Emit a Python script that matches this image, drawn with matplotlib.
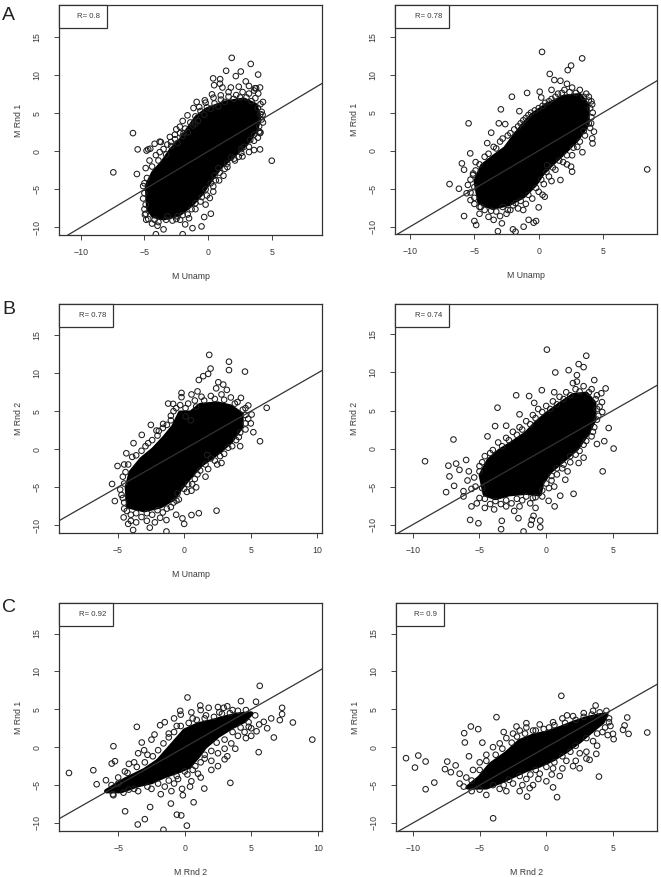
import matplotlib
matplotlib.use("Agg")
import matplotlib.pyplot as plt
from matplotlib.ticker import MultipleLocator
from matplotlib.patches import Rectangle

plt.rcParams['font.family'] = ['Liberation Sans', 'DejaVu Sans']

# ---------------- data ----------------
panel_letters = ["A", "B", "C"]
x_labels = ["M Unamp", "M Unamp", "M Unamp", "", "M Rnd 2", "M Rnd 2"]
y_labels = ["M Rnd 1", "M Rnd 1", "M Rnd 2", "M Rnd 2", "M Rnd 1", "M Rnd 1"]
r_values = ["0.8", "0.78", "0.78", "0.74", "0.92", "0.9"]

# dense (solid black) core of each cloud, outline vertices (x, y)
al_core = [(-4.7,-7.5),(-4.8,-4.5),(-4.3,-2.8),(-3.6,-1.5),(-2.9,0.2),(-2.1,1.6),(-1.5,3.1),
           (-0.9,4.5),(-0.1,5.5),(1.3,6.4),(2.8,6.8),(3.7,6.1),(4.0,4.5),(3.8,3.0),(3.0,1.0),
           (2.0,-0.5),(1.0,-2.0),(0.3,-3.5),(-0.5,-5.5),(-1.3,-7.0),(-2.3,-8.3),(-3.5,-8.8),(-4.3,-8.5)]
ar_core = [(-4.6,-6.8),(-4.9,-4.0),(-4.4,-2.0),(-3.5,-0.8),(-2.6,0.3),(-1.9,1.9),(-1.2,3.4),
           (-0.5,4.7),(0.6,6.0),(2.0,7.1),(3.2,7.3),(3.8,6.0),(3.8,3.5),(3.0,1.5),(2.0,-0.2),
           (1.0,-1.8),(0.3,-3.0),(-0.3,-4.5),(-1.2,-6.0),(-2.3,-7.0),(-3.6,-7.5)]
bl_core = [(-4.2,-7.5),(-4.3,-5.0),(-4.0,-3.0),(-3.2,-1.3),(-2.3,0.0),(-1.5,1.5),(-0.8,3.0),
           (-0.3,4.8),(0.5,4.8),(1.2,5.8),(2.5,6.0),(3.5,5.6),(4.3,4.6),(4.3,3.0),(3.5,1.0),
           (2.5,-0.5),(1.3,-2.0),(0.5,-3.5),(-0.2,-5.0),(-0.8,-6.5),(-1.8,-7.5),(-3.0,-8.0)]
br_core = [(-4.6,-6.0),(-4.9,-3.5),(-4.3,-1.5),(-3.5,-0.3),(-2.5,0.8),(-1.5,2.0),(-0.8,3.3),
           (0.0,4.5),(1.0,5.8),(2.0,7.0),(3.0,7.2),(3.6,6.0),(3.6,3.8),(3.1,2.0),(2.3,0.0),
           (1.3,-1.5),(0.3,-3.0),(-0.3,-4.5),(-0.5,-6.0),(-1.5,-5.8),(-2.8,-6.0),(-3.8,-6.5)]
cl_core = [(-5.9,-5.8),(-4.5,-4.3),(-3.0,-3.0),(-2.0,-1.8),(-1.0,0.2),(0.0,2.2),(1.0,3.0),
           (2.0,3.4),(3.0,3.9),(4.0,4.3),(5.0,4.45),(4.5,3.5),(3.5,2.6),(2.5,1.5),(1.5,0.0),
           (1.0,-1.2),(0.3,-2.6),(-0.5,-3.2),(-1.5,-3.8),(-2.5,-4.6),(-3.5,-5.0),(-4.8,-5.8)]
cr_core = [(-5.9,-5.3),(-5.0,-4.0),(-4.2,-2.3),(-3.0,-0.8),(-2.0,0.8),(-1.0,1.5),(0.0,1.9),
           (1.0,2.5),(2.0,3.2),(3.0,3.8),(4.0,4.2),(4.5,4.3),(4.2,3.3),(3.5,2.3),(2.5,0.8),
           (1.5,-0.5),(0.5,-1.6),(-0.5,-2.4),(-1.5,-3.0),(-2.5,-3.8),(-3.5,-4.6),(-4.5,-5.3)]

# individual visible points (x, y)
al_points = [(1.85,12.3),(3.34,11.5),(1.41,10.6),(2.56,10.5),(3.92,10.1),(0.94,9.5),(2.17,9.9),
             (2.95,9.2),(0.47,8.7),(1.12,8.4),(1.78,8.4),(3.76,8.3),(-5.9,2.4),(-5.53,0.26),
             (-4.83,0.1),(-4.54,0.35),(-7.44,-2.76),(-5.59,-2.98),(4.99,-1.23),(4.07,0.26),
             (3.6,0.17),(4.07,2.4),(4.07,8.4),(-5.1,-4.56),(-3.19,-8.55),(-2.4,-8.55),(-1.8,-9.6),
             (-1.23,-10.1),(-0.52,-9.87),(-0.31,-8.64),(0.21,-8.2),(0.13,-6.14),(-3.97,-9.78),
             (-3.5,-10.26),(-2.0,-10.9),(-4.1,-10.9),(-4.96,-8.33),(-4.86,-9.0),(0.86,-3.82),
             (1.51,-2.06),(2.04,-0.96),(2.69,-0.66),(3.21,-0.09),(-1.02,3.64),(-1.93,2.41),
             (-2.61,2.19),(-2.92,1.23),(-3.71,1.23),(-1.15,5.7),(-0.7,5.83),(-1.62,4.74),
             (-0.26,6.71),(0.42,7.06),(0.99,7.37),(0.39,9.6),(0.92,8.9),(3.67,8.3),(-2.22,3.24),
             (-3.0,1.9),(-3.8,1.27),(-4.7,0.26),(4.0,2.6),(4.27,4.8),(4.3,6.5),(3.93,7.6),
             (-4.9,-2.2),(-4.6,-1.2),(-4.1,-0.5),(-3.5,0.3),(-3.2,0.9),(-2.6,1.6),(-2.2,2.4),
             (-1.8,3.0),(-1.4,3.8),(-1.0,4.6),(-0.6,5.3),(-0.1,5.8),(0.5,6.3),(1.0,6.8),(1.6,7.2),
             (2.2,7.4),(2.7,7.8),(3.2,7.6),(3.7,7.0),(4.1,6.2),(4.2,5.2),(4.3,3.8),(4.1,2.5),
             (3.6,1.4),(3.2,0.6),(2.6,-0.2),(2.1,-1.2),(1.5,-1.6),(0.9,-2.8),(0.6,-3.8),(0.4,-4.6),
             (-0.1,-5.8),(-0.6,-6.6),(-1.0,-7.6),(-1.6,-8.3),(-2.8,-9.1),(-3.9,-9.3),(-4.7,-8.9),
             (-5.0,-7.6),(-5.1,-6.2),(-4.4,-9.5),(-2.2,-9.0),
             (-4.8,-3.5),(-4.4,-2.0),(-3.9,-1.2),(-3.3,-0.4),(-2.9,0.7),(-2.4,1.1),(-2.0,2.0),
             (-1.6,2.5),(-1.2,3.4),(-0.8,4.0),(-0.3,4.8),(0.2,5.6),(0.8,5.9),(1.3,6.5),(2.0,6.9),
             (2.5,7.1),(3.0,7.1),(3.4,6.6),(3.9,5.7),(4.1,4.9),(4.2,4.2),(4.0,3.3),(3.6,2.2),
             (3.3,1.5),(2.8,0.6),(2.4,-0.7),(1.8,-0.8),(1.3,-2.3),(0.8,-2.2),(0.5,-3.2),(0.2,-4.2),
             (-0.2,-5.0),(-0.5,-6.0),(-1.0,-6.8),(-1.3,-7.6),(-2.0,-8.4),(-2.5,-8.9),(-3.3,-9.0),
             (-4.2,-9.0),(-4.9,-8.2),(-4.9,-7.0),(-5.0,-5.5),(-5.0,-4.2),(-1.5,-8.8),(-0.2,-7.0),
             (0.4,-5.3),(1.2,-3.2),(2.6,0.3),(3.9,1.8),(-3.8,-0.1),(-2.5,2.9),(-0.2,6.4),(1.6,7.8),
             (2.4,8.5),(3.2,8.6),(3.6,8.0),(0.3,7.5),(-0.9,6.5),(-2.0,4.0),(-4.2,1.0)]
ar_points = [(0.26,13.0),(3.38,12.15),(2.52,11.2),(2.26,10.6),(1.69,9.2),(0.86,10.1),(1.22,9.3),
             (-2.08,7.1),(-2.94,5.44),(-5.45,3.6),(-3.1,3.6),(-3.69,2.37),(-0.9,7.6),(0.08,7.76),
             (-5.32,-0.35),(-5.97,-1.67),(-6.93,-4.39),(-5.8,-8.6),(-5.0,-9.25),(-4.86,-9.78),
             (-3.9,-8.7),(-3.17,-10.6),(-3.5,-9.1),(-2.86,-9.56),(-2.0,-10.35),(-1.8,-10.66),
             (-0.78,-9.1),(-0.39,-9.47),(-0.2,-9.25),(-1.17,-10.0),(0.0,-7.46),(0.47,-6.05),
             (8.44,-2.46),(4.16,1.62),(4.19,0.96),(4.08,3.6),(3.9,7.1),(4.16,6.1),(2.52,-2.1),
             (2.6,-2.76),(1.69,-3.86),(0.65,-1.9),(-1.8,-6.9),(-2.2,-7.8),(-4.5,-7.4),(-5.3,-6.5),
             (-5.6,-5.6),(-5.1,-3.0),
             (-5.1,-3.2),(-4.9,-1.5),(-4.2,-0.8),(-3.5,0.5),(-3.0,1.2),(-2.4,2.0),(-1.9,2.8),
             (-1.4,3.6),(-1.0,4.3),(-0.6,5.0),(0.0,5.6),(0.5,6.3),(1.0,6.8),(1.5,7.5),(2.0,8.0),
             (2.6,8.3),(3.2,8.0),(3.7,7.5),(4.1,6.5),(4.2,5.0),(4.0,3.0),(3.6,2.0),(3.0,0.5),
             (2.6,-0.6),(1.9,-1.5),(1.3,-2.5),(0.8,-3.4),(0.4,-4.4),(0.0,-5.4),(-0.5,-6.3),
             (-1.0,-7.0),(-1.6,-7.6),(-2.4,-7.8),(-3.3,-8.0),(-4.2,-7.8),(-5.0,-7.0),(-5.3,-5.5),
             (-5.5,-4.5),(-4.6,-8.3),(-3.0,-8.6),
             (-5.0,-4.8),(-4.9,-2.6),(-4.6,-1.8),(-3.9,-0.4),(-3.3,0.3),(-2.8,1.6),(-2.2,2.3),
             (-1.6,3.2),(-1.2,4.0),(-0.8,4.7),(-0.3,5.3),(0.3,5.9),(0.8,6.5),(1.3,7.1),(1.8,7.6),
             (2.4,7.7),(2.9,7.6),(3.5,7.1),(3.9,6.6),(4.0,5.6),(4.1,4.4),(3.9,3.6),(3.5,2.6),
             (3.2,1.2),(2.7,0.4),(2.2,-0.6),(1.6,-1.3),(1.1,-2.2),(0.6,-2.8),(0.2,-3.8),(-0.2,-4.9),
             (-0.8,-5.8),(-1.4,-6.6),(-2.0,-7.2),(-2.8,-7.4),(-3.7,-7.9),(-4.6,-7.4),(-5.0,-6.2),
             (-5.3,-3.8),(-2.5,-8.3),(-1.2,-7.8),(0.3,-5.8),(1.0,-4.0),(2.2,-1.8),(3.4,-0.2),
             (4.3,2.5),(2.2,8.8),(1.0,8.0),(0.2,7.0),(-1.5,5.2),(-2.6,3.5),(-4.0,1.0),(-5.8,-2.5),
             (-6.2,-5.0)]
bl_points = [(1.88,12.4),(3.36,11.5),(1.98,10.6),(3.36,10.4),(4.56,10.2),(1.8,9.9),(1.43,9.6),
             (2.56,8.8),(2.93,8.5),(1.1,9.1),(6.19,5.44),(5.69,1.05),(5.19,2.24),(5.06,4.56),
             (4.81,5.75),(4.26,6.75),(-3.18,1.89),(-4.34,-0.53),(-5.41,-4.56),(1.73,-0.75),
             (2.48,-2.0),(2.43,-8.07),(1.1,-8.4),(0.55,-8.64),(-0.13,-9.08),(0.0,-9.8),
             (-1.33,-9.3),(-1.33,-10.8),(-2.58,-10.3),(-3.83,-10.6),(-4.2,-9.8),(-4.54,-8.95),
             (0.55,-5.44),(-0.58,-6.75),(-2.08,2.46),(-1.58,3.33),(-0.83,5.96),(-0.2,6.84),
             (0.55,7.2),
             (-4.6,-3.6),(-4.5,-2.0),(-3.9,-1.0),(-3.2,-0.2),(-2.7,0.8),(-2.0,1.8),(-1.6,2.8),
             (-1.0,3.8),(-0.8,5.0),(-0.3,5.8),(0.3,6.0),(0.8,6.4),(1.3,6.9),(2.0,7.0),(2.8,7.2),
             (3.5,6.8),(4.0,6.2),(4.6,5.4),(4.8,4.0),(4.6,2.6),(4.1,1.6),(3.6,0.4),(3.0,-0.6),
             (2.3,-1.5),(1.8,-2.6),(1.0,-3.3),(0.6,-4.6),(0.2,-5.6),(-0.4,-6.6),(-1.0,-7.6),
             (-1.6,-8.3),(-2.4,-8.6),(-3.2,-8.9),(-4.0,-8.6),(-4.5,-7.8),(-4.6,-6.4),(-4.8,-5.3),
             (-2.8,-9.4),(-3.6,-9.6),(-1.8,-9.0),(0.1,4.3),(0.5,3.8),
             (-4.5,-4.5),(-4.4,-3.0),(-4.2,-2.0),(-3.6,-0.8),(-2.9,0.4),(-2.4,1.2),(-1.9,2.4),
             (-1.3,3.2),(-1.0,4.4),(-0.6,5.4),(0.1,5.4),(0.9,5.6),(1.5,6.4),(2.3,6.6),(3.0,6.5),
             (3.8,6.0),(4.4,5.2),(4.6,4.5),(4.6,3.4),(4.2,2.2),(3.9,1.2),(3.3,0.2),(2.7,-0.9),
             (2.0,-1.2),(1.6,-2.0),(1.2,-2.8),(0.8,-3.9),(0.3,-4.6),(0.0,-5.2),(-0.5,-5.8),
             (-0.8,-7.0),(-1.3,-7.8),(-2.0,-8.0),(-2.8,-8.4),(-3.6,-8.4),(-4.3,-8.1),(-4.5,-7.0),
             (-4.7,-6.0),(-2.2,-9.6),(-0.6,-8.6),(0.9,-5.0),(1.6,-3.6),(2.8,-1.8),(4.2,0.4),
             (5.0,3.4),(3.2,7.8),(2.4,8.0),(1.0,7.6),(-0.2,7.4),(-1.2,6.0),(-2.5,3.2),(-3.8,0.8),
             (-5.0,-2.2),(-5.2,-6.8),(-4.0,-9.4)]
br_points = [(0.05,13.0),(3.0,12.2),(2.43,11.1),(2.8,10.7),(0.68,10.0),(1.68,10.3),(2.3,9.65),
             (2.3,8.8),(4.45,7.9),(4.13,7.27),(4.18,6.1),(4.68,2.7),(4.35,0.97),(5.05,0.0),
             (4.23,-3.0),(-2.25,7.0),(-0.33,7.67),(-3.65,5.37),(-1.28,6.9),(-3.83,2.95),
             (-6.95,1.19),(-9.08,-1.67),(-7.33,-2.25),(-6.75,-1.98),(-7.25,-3.66),(-7.5,-5.73),
             (-6.9,-4.9),(-5.7,-9.38),(-5.08,-9.82),(-3.33,-9.5),(-3.38,-10.6),(-2.08,-9.16),
             (-1.08,-9.38),(-1.15,-10.0),(-0.45,-10.35),(-0.45,-9.47),(-1.7,-10.9),(-0.95,-8.85),
             (0.18,-6.87),(0.63,-7.6),(1.05,-6.2),(2.05,-5.95),(1.43,-4.1),(2.43,-1.9),
             (-5.2,-7.2),(-6.2,-6.3),
             (-5.0,-2.3),(-4.6,-1.0),(-4.0,-0.2),(-3.6,0.8),(-3.0,1.4),(-2.5,2.2),(-2.0,2.8),
             (-1.5,3.6),(-1.0,4.4),(-0.6,5.2),(0.0,5.6),(0.5,6.2),(1.0,6.8),(1.5,7.4),(2.2,7.8),
             (2.8,8.2),(3.4,7.8),(3.8,7.0),(4.0,5.5),(3.9,4.3),(3.6,2.8),(3.4,1.6),(2.8,0.5),
             (2.2,-0.8),(1.8,-1.8),(1.2,-2.6),(0.8,-3.4),(0.4,-4.2),(0.2,-5.2),(-0.3,-6.3),
             (-1.0,-6.5),(-1.8,-6.8),(-2.6,-7.2),(-3.4,-7.3),(-4.2,-7.3),(-5.0,-6.5),(-5.3,-5.0),
             (-5.4,-3.8),(-5.9,-4.2),(-6.2,-5.6),(-5.6,-7.6),(-4.6,-7.8),(-3.0,-7.6),(-2.0,-7.6),
             (-1.2,-7.2),
             (-4.8,-5.2),(-5.0,-3.0),(-4.8,-1.8),(-4.2,-0.6),(-3.3,0.3),(-2.8,1.1),(-2.2,1.8),
             (-1.8,2.5),(-1.2,3.2),(-0.8,4.0),(-0.3,4.8),(0.3,5.2),(0.8,5.8),(1.3,6.5),(1.8,7.0),
             (2.5,7.5),(3.2,7.4),(3.7,6.5),(3.8,5.2),(3.8,3.8),(3.5,2.2),(3.0,1.0),(2.5,-0.3),
             (1.8,-1.0),(1.3,-2.1),(0.8,-2.6),(0.4,-3.6),(0.0,-4.6),(-0.3,-5.5),(-0.8,-6.4),
             (-1.5,-6.3),(-2.2,-6.6),(-3.0,-6.8),(-3.8,-6.9),(-4.6,-6.6),(-5.6,-5.3),(-5.8,-3.0),
             (-6.5,-2.8),(-6.0,-1.5),(-3.9,-8.0),(-2.4,-8.2),(-0.8,-7.8),(0.6,-5.0),(1.6,-3.0),
             (2.8,-1.2),(3.8,0.6),(4.2,4.8),(3.6,9.0),(2.0,8.6),(0.6,7.4),(-0.9,6.0),(-2.0,4.5),
             (-3.0,3.0),(-4.4,1.6)]
cl_points = [(5.64,8.1),(0.21,6.56),(4.23,6.08),(5.36,6.0),(7.32,5.2),(7.32,4.36),(7.15,3.57),
             (8.13,3.26),(9.59,1.0),(6.7,1.28),(5.56,-0.66),(3.43,-4.71),(1.47,-5.46),(5.94,3.35),
             (4.81,2.69),(2.93,5.2),(1.17,5.5),(-0.34,4.8),(-1.85,2.9),(-2.27,1.67),(-3.6,2.69),
             (-3.23,0.62),(-3.05,-0.4),(-5.36,0.13),(-5.49,-2.16),(-5.24,-1.85),(-6.62,-4.89),
             (-6.87,-3.04),(-8.7,-3.4),(-5.92,-4.36),(-5.36,-6.34),(-4.48,-8.46),(-3.53,-10.2),
             (-3.0,-9.5),(-2.6,-7.9),(-1.6,-10.9),(-1.04,-7.44),(-0.59,-8.9),(-0.26,-9.0),
             (0.16,-10.35),(0.67,-7.27),(-0.14,-6.34),
             (-1.5,3.3),(-0.8,3.8),(-0.3,4.3),(0.5,4.6),(1.2,4.9),(1.8,5.2),(2.5,5.3),(3.2,5.4),
             (-2.5,1.0),(-3.5,-0.8),(-4.2,-2.2),(-2.8,-1.0),(-1.2,1.8),(-0.6,2.8),(0.6,3.8),
             (1.6,4.2),(2.6,4.6),(3.6,4.9),(0.8,-2.5),(1.5,-1.5),(2.0,-1.8),(2.5,-0.8),(3.0,-0.2),
             (3.5,0.5),(4.0,1.5),(1.0,-3.5),(0.5,-4.5),(-0.2,-5.5),(-0.8,-4.8),(-1.5,-5.2),
             (-2.5,-5.5),(-3.5,-5.8),(2.5,-2.5),(3.2,-1.2),(4.5,2.0),(5.0,2.5),(5.6,3.0),(5.4,2.1),
             (6.2,2.5),(6.5,3.8),(5.0,1.5),(-4.5,-3.2),(-3.8,-2.0),(-5.0,-4.8),(-4.2,-5.6),
             (0.2,-3.6),(-0.5,-4.2),
             (-5.5,-5.0),(-5.0,-4.0),(-4.3,-3.4),(-3.6,-2.6),(-3.0,-2.0),(-2.4,-1.2),(-2.0,-0.4),
             (-1.6,0.5),(-1.2,1.3),(-0.8,2.0),(-0.3,2.8),(0.3,3.2),(0.9,3.6),(1.5,3.8),(2.2,4.0),
             (2.8,4.4),(3.4,4.5),(4.0,4.8),(4.6,4.9),(5.3,4.2),(4.8,3.3),(4.2,2.6),(3.6,2.0),
             (3.0,1.0),(2.4,0.6),(2.0,-0.5),(1.5,-1.0),(1.2,-2.0),(0.6,-3.0),(0.0,-3.2),
             (-0.6,-3.8),(-1.2,-4.4),(-2.0,-4.8),(-2.8,-5.2),(-3.8,-5.5),(-4.6,-6.0),(-5.4,-6.2),
             (-1.8,-6.2),(-1.0,-5.8),(0.4,-5.2),(1.2,-4.0),(2.0,-3.0),(3.0,-1.6),(3.8,-0.2),
             (4.6,1.2)]
cr_points = [(1.12,6.78),(3.69,5.5),(-3.74,3.96),(-5.66,2.73),(-6.16,1.85),(-6.11,0.62),
             (-5.11,2.38),(-10.52,-1.45),(-9.6,-1.1),(-9.85,-2.69),(-9.05,-1.89),(-8.4,-4.67),
             (-9.05,-5.55),(-7.6,-2.9),(-7.43,-1.9),(-7.16,-3.3),(-1.45,-6.52),(-3.99,-9.38),
             (0.8,-6.6),(0.5,-5.3),(-1.25,-5.4),(3.94,-3.88),(3.74,-0.88),(3.24,-1.67),
             (2.49,-2.78),(4.99,1.76),(5.04,1.06),(5.74,2.29),(6.06,3.92),(6.16,1.76),(5.86,2.87),
             (7.56,1.94),(4.69,3.3),(-2.24,2.73),(-1.5,3.17),(1.55,4.2),
             (-4.5,-1.0),(-4.0,0.0),(-3.5,0.5),(-3.0,1.2),(-2.5,1.8),(-2.0,2.2),(-1.5,2.6),
             (-0.5,3.0),(0.5,3.3),(1.2,3.8),(2.0,4.1),(2.8,4.5),(3.5,4.8),(-5.0,-2.0),(-5.5,-3.0),
             (-6.0,-4.0),(-6.5,-4.8),(-3.5,-5.5),(-2.5,-4.8),(-1.5,-4.2),(-0.5,-3.5),(0.5,-2.8),
             (1.5,-1.8),(2.5,-0.8),(3.5,0.8),(4.2,2.0),(4.8,2.8),(1.0,-3.8),(2.0,-2.5),(3.0,-1.5),
             (0.0,-4.5),(-1.0,-5.0),(-2.0,-5.8),(-4.5,-6.3),(-5.8,-1.2),(-6.8,-2.4),(-6.5,-3.5),
             (-4.8,0.6),(-3.2,2.0),(-0.8,2.2),(0.2,2.6),
             (-5.6,-4.4),(-5.0,-3.0),(-4.5,-1.8),(-3.8,-1.0),(-3.3,-0.2),(-2.6,0.6),(-2.2,1.4),
             (-1.6,1.8),(-1.0,2.2),(-0.2,2.4),(0.6,2.9),(1.4,3.2),(2.2,3.6),(2.8,4.0),(3.4,4.3),
             (4.0,4.6),(4.5,4.8),(4.7,3.8),(4.4,2.6),(3.8,1.8),(3.0,1.2),(2.2,0.2),(1.8,-0.6),
             (1.2,-1.2),(0.6,-2.0),(0.0,-2.6),(-0.8,-3.0),(-1.2,-3.6),(-2.0,-3.8),(-2.8,-4.3),
             (-3.2,-5.0),(-4.0,-5.0),(-5.0,-5.6),(-5.6,-5.8),(-6.2,-5.2),(-3.0,-5.8),(-1.8,-5.0),
             (-0.6,-4.2),(0.4,-3.6),(1.2,-2.8),(2.2,-1.8),(3.0,-0.6),(3.8,0.2),(4.6,1.6)]

x_limits = [(-11.7, 8.93), (-11.17, 9.2), (-9.39, 10.34), (-11.33, 8.3), (-9.45, 10.32), (-11.27, 8.29)]
y_limits = [(-11.0, 19.25), (-10.96, 19.17), (-11.0, 19.08), (-11.1, 19.0), (-11.06, 19.03), (-11.06, 19.03)]

cores = [al_core, ar_core, bl_core, br_core, cl_core, cr_core]
points = [al_points, ar_points, bl_points, br_points, cl_points, cr_points]

# ---------------- layout ----------------
W, H = 661, 877
fig = plt.figure(figsize=(W / 100, H / 100), dpi=100)
boxes = [(59, 5, 322, 235), (395, 5, 657, 234), (59, 304, 322, 533),
         (395, 304, 657, 533), (59, 603, 322, 831), (396, 603, 657, 831)]
TXT = '#3a3a3a'

for i in range(6):
    l, t, r, b = boxes[i]
    ax = fig.add_axes([l / W, 1 - b / H, (r - l) / W, (b - t) / H])
    ax.set_xlim(*x_limits[i])
    ax.set_ylim(*y_limits[i])
    cx = [p[0] for p in cores[i]]
    cy = [p[1] for p in cores[i]]
    ax.fill(cx, cy, facecolor='black', edgecolor='black', lw=3.2, joinstyle='round', zorder=2)
    px = [p[0] for p in points[i]]
    py = [p[1] for p in points[i]]
    ax.scatter(px, py, s=16, facecolors='none', edgecolors='#1e1e1e', linewidths=0.75, zorder=3)
    ax.axline((0, 0), slope=1, color='#333333', lw=0.9, zorder=4)

    ax.xaxis.set_major_locator(MultipleLocator(5))
    ax.yaxis.set_major_locator(MultipleLocator(5))
    ax.tick_params(length=3.5, width=0.7, color='#444444', labelsize=6.3, labelcolor=TXT)
    ax.tick_params(axis='x', pad=6)
    ax.tick_params(axis='y', pad=9)
    for lbl in ax.get_yticklabels():
        lbl.set_rotation(90)
        lbl.set_va('center')
    for sp in ax.spines.values():
        sp.set_color('#333333')
        sp.set_linewidth(0.9)
    if x_labels[i]:
        ax.set_xlabel(x_labels[i], fontsize=6.3, color=TXT, labelpad=11)
    ax.set_ylabel(y_labels[i], fontsize=6.3, color=TXT, labelpad=7)

    # R legend box
    txt = "R= " + r_values[i]
    bw = (12 + 6 * len(txt)) / (r - l)
    bh = 23 / (b - t)
    ax.add_patch(Rectangle((0, 1 - bh), bw, bh, transform=ax.transAxes, facecolor='white',
                           edgecolor='#333333', lw=0.9, zorder=5, clip_on=False))
    ax.text(bw - 7 / (r - l), 1 - bh / 2, txt, transform=ax.transAxes, ha='right', va='center',
            fontsize=5.6, color=TXT, zorder=6)

letter_y = [16, 310, 607]
for k, lt in enumerate(panel_letters):
    fig.text(2 / W, 1 - letter_y[k] / H, lt, fontsize=14, ha='left', va='center', color='#222222')

fig.savefig("out.png", dpi=100, facecolor='white')
